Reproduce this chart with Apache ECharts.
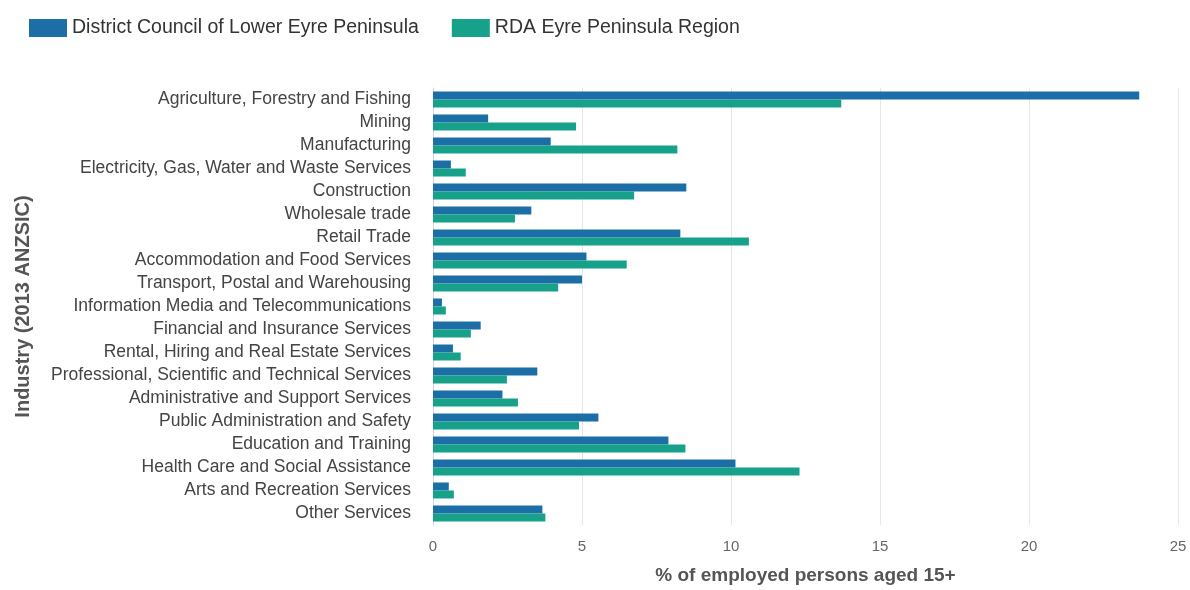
<!DOCTYPE html>
<html>
<head>
<meta charset="utf-8">
<script src="https://cdn.jsdelivr.net/npm/echarts@6/dist/echarts.min.js"></script>
<style>
html, body { margin: 0; padding: 0; background: #fff; }
#chart { width: 1190px; height: 590px; }
</style>
</head>
<body>
<div id="chart"></div>
<script>
// industries, top to bottom as in the chart
var industries = [
	'Agriculture, Forestry and Fishing',
	'Mining',
	'Manufacturing',
	'Electricity, Gas, Water and Waste Services',
	'Construction',
	'Wholesale trade',
	'Retail Trade',
	'Accommodation and Food Services',
	'Transport, Postal and Warehousing',
	'Information Media and Telecommunications',
	'Financial and Insurance Services',
	'Rental, Hiring and Real Estate Services',
	'Professional, Scientific and Technical Services',
	'Administrative and Support Services',
	'Public Administration and Safety',
	'Education and Training',
	'Health Care and Social Assistance',
	'Arts and Recreation Services',
	'Other Services'
];
var lowerEyre = [23.7, 1.85, 3.95, 0.6, 8.5, 3.3, 8.3, 5.15, 5.0, 0.3, 1.6, 0.67, 3.5, 2.33, 5.55, 7.9, 10.15, 0.53, 3.67];
var rdaEyre   = [13.7, 4.8, 8.2, 1.1, 6.75, 2.75, 10.6, 6.5, 4.2, 0.43, 1.27, 0.93, 2.48, 2.85, 4.9, 8.47, 12.3, 0.7, 3.77];
var xTicks = [0, 5, 10, 15, 20, 25];

var chart = echarts.init(document.getElementById('chart'));
chart.setOption({
	animation: false,
	textStyle: { fontFamily: 'Liberation Sans, Arial, sans-serif' },
	color: ['#1b6fa6', '#17a18a'],
	legend: {
		left: 24,
		top: 13,
		itemWidth: 38,
		itemHeight: 18,
		itemGap: 33,
		icon: 'rect',
		textStyle: { fontSize: 19.5, color: '#333' },
		data: ['District Council of Lower Eyre Peninsula', 'RDA Eyre Peninsula Region']
	},
	grid: { left: 433, right: 12, top: 88, bottom: 63 },
	xAxis: {
		type: 'value',
		min: xTicks[0],
		max: xTicks[xTicks.length - 1],
		interval: 5,
		name: '% of employed persons aged 15+',
		nameLocation: 'middle',
		nameGap: 41,
		nameTextStyle: { fontSize: 19, fontWeight: 'bold', color: '#555' },
		axisLine: { show: false },
		axisTick: { show: false },
		axisLabel: { fontSize: 15, color: '#666', margin: 14 },
		splitLine: { lineStyle: { color: '#e6e6e6' } }
	},
	yAxis: {
		type: 'category',
		inverse: true,
		data: industries,
		name: 'Industry (2013 ANZSIC)',
		nameLocation: 'middle',
		nameGap: 400,
		nameRotate: 90,
		nameTextStyle: { fontSize: 20, fontWeight: 'bold', color: '#555' },
		axisLine: { lineStyle: { color: '#ccd6eb' } },
		axisTick: { length: 8, lineStyle: { color: '#ccd6eb' } },
		axisLabel: { interval: 0, fontSize: 17.5, color: '#444', margin: 22 }
	},
	series: [{
		name: 'District Council of Lower Eyre Peninsula',
		type: 'bar',
		data: lowerEyre,
		barWidth: 8,
		barGap: '0%'
	}, {
		name: 'RDA Eyre Peninsula Region',
		type: 'bar',
		data: rdaEyre,
		barWidth: 8,
		barGap: '0%'
	}]
});
</script>
</body>
</html>
